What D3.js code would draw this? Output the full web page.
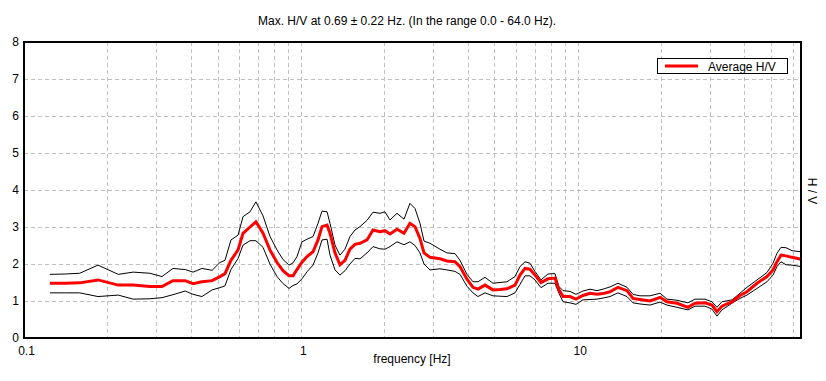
<!DOCTYPE html>
<html><head><meta charset="utf-8">
<script src="https://cdn.jsdelivr.net/npm/d3@7"></script>
<style>
html,body{margin:0;padding:0;background:#fff;}
text{font-family:"Liberation Sans",Arial,sans-serif;}
</style></head>
<body><svg id="c" width="826" height="381"></svg>
<script>
const freq = [0.124,0.141,0.159,0.185,0.219,0.248,0.285,0.315,0.345,0.382,0.408,0.439,0.478,0.510,0.532,0.559,0.593,0.618,0.655,0.688,0.730,0.773,0.820,0.862,0.906,0.937,0.968,1.009,1.052,1.106,1.153,1.192,1.243,1.274,1.328,1.384,1.443,1.504,1.568,1.635,1.733,1.822,1.931,2.012,2.098,2.224,2.357,2.477,2.583,2.692,2.784,2.926,3.179,3.370,3.602,3.755,3.980,4.183,4.361,4.623,4.941,5.236,5.550,5.933,6.185,6.447,6.721,7.006,7.364,7.805,8.273,8.552,8.844,9.371,9.851,10.44,11.07,11.73,12.33,13.07,13.97,15.06,15.83,16.77,18.23,19.82,21.00,22.82,25.00,26.50,28.80,30.52,31.82,33.17,36.06,38.53,40.84,44.39,48.23,50.70,52.41,54.19,56.49,59.38,64.0];
const hvMean = [1.48,1.48,1.49,1.57,1.43,1.43,1.39,1.39,1.55,1.55,1.47,1.52,1.55,1.66,1.74,2.1,2.38,2.83,3.0,3.14,2.83,2.38,2.04,1.82,1.68,1.68,1.85,2.05,2.2,2.33,2.65,3.01,3.05,2.83,2.3,1.98,2.1,2.4,2.53,2.56,2.65,2.92,2.87,2.9,2.81,2.94,2.83,3.1,3.01,2.69,2.3,2.18,2.14,2.08,2.06,1.93,1.59,1.37,1.32,1.43,1.30,1.31,1.33,1.43,1.70,1.88,1.86,1.7,1.5,1.6,1.62,1.30,1.12,1.12,1.05,1.15,1.21,1.18,1.2,1.25,1.37,1.28,1.07,1.04,1.0,1.1,0.98,0.94,0.83,0.94,0.95,0.89,0.71,0.86,0.98,1.15,1.25,1.48,1.66,1.84,2.06,2.24,2.22,2.18,2.13];
const hvUpper = [1.72,1.73,1.75,1.97,1.72,1.78,1.75,1.66,1.88,1.85,1.78,1.88,1.83,2.04,2.1,2.65,2.78,3.28,3.41,3.68,3.3,2.75,2.38,2.12,1.97,2.03,2.2,2.6,2.67,2.74,3.1,3.43,3.41,3.1,2.51,2.24,2.4,2.74,2.92,3.01,3.18,3.4,3.37,3.41,3.19,3.37,3.21,3.64,3.5,3.1,2.62,2.56,2.4,2.3,2.28,2.1,1.72,1.52,1.52,1.64,1.48,1.5,1.52,1.66,1.93,2.06,2.02,1.8,1.57,1.73,1.74,1.39,1.28,1.26,1.18,1.27,1.32,1.28,1.32,1.38,1.48,1.37,1.18,1.14,1.14,1.21,1.05,1.02,0.95,1.05,1.05,0.98,0.83,0.98,1.03,1.21,1.37,1.57,1.77,2.02,2.29,2.45,2.44,2.36,2.33];
const hvLower = [1.22,1.22,1.22,1.12,1.16,1.05,1.06,1.09,1.17,1.27,1.18,1.12,1.30,1.36,1.41,1.85,2.15,2.51,2.63,2.63,2.45,2.0,1.66,1.47,1.34,1.42,1.46,1.6,1.79,1.97,2.3,2.65,2.67,2.24,1.84,1.7,1.82,2.0,2.15,2.14,2.3,2.47,2.41,2.4,2.47,2.6,2.52,2.6,2.5,2.3,2.0,1.84,1.87,1.84,1.8,1.72,1.4,1.22,1.12,1.22,1.14,1.13,1.12,1.22,1.45,1.68,1.68,1.57,1.36,1.48,1.48,1.21,0.98,0.95,0.91,1.03,1.04,1.05,1.08,1.12,1.22,1.12,0.95,0.92,0.89,0.97,0.89,0.83,0.76,0.86,0.86,0.78,0.59,0.76,0.94,1.07,1.16,1.34,1.52,1.7,1.93,2.06,1.98,1.97,1.93];
const xTicks = [0.1, 1, 10];
const yTicks = [0,1,2,3,4,5,6,7,8];
const titleText = "Max. H/V at 0.69 \u00b1 0.22 Hz. (In the range 0.0 - 64.0 Hz).";
const xLabel = "frequency [Hz]";
const yLabel = "H / V";
const legendLabel = "Average H/V";

const svg = d3.select("#c");
const L = 24, R = 801, T = 42, B = 338;
const x = d3.scaleLog().domain([0.1, 64]).range([L, R]);
const y = d3.scaleLinear().domain([0, 8]).range([B, T]);

svg.append("rect").attr("width",826).attr("height",381).attr("fill","#fff");

// grid
const gridX = [];
[0.1,1,10].forEach(d => { for (let k=1;k<10;k++){ const v=d*k; if (v>0.1 && v<64) gridX.push(v);} });
const g = svg.append("g").attr("stroke","#c0c0c0").attr("stroke-dasharray","4,3").attr("stroke-width",1).attr("shape-rendering","crispEdges");
g.selectAll("line.gx").data(gridX).join("line")
  .attr("x1",d=>Math.round(x(d))+0.5).attr("x2",d=>Math.round(x(d))+0.5).attr("y1",T).attr("y2",B);
g.selectAll("line.gy").data(yTicks.filter(v=>v>0&&v<8)).join("line")
  .attr("y1",d=>Math.round(y(d))+0.5).attr("y2",d=>Math.round(y(d))+0.5).attr("x1",L).attr("x2",R);

// curves
const pts = arr => freq.map((f,i)=>[f,arr[i]]);
const line = d3.line().x(d=>x(d[0])).y(d=>y(d[1]));
svg.append("path").attr("d",line(pts(hvUpper))).attr("fill","none").attr("stroke","#000").attr("stroke-width",1);
svg.append("path").attr("d",line(pts(hvLower))).attr("fill","none").attr("stroke","#000").attr("stroke-width",1);
svg.append("path").attr("d",line(pts(hvMean))).attr("fill","none").attr("stroke","#ff0000").attr("stroke-width",3);

// frame
svg.append("rect").attr("x",L).attr("y",T).attr("width",R-L).attr("height",B-T)
  .attr("fill","none").attr("stroke","#000").attr("stroke-width",2).attr("shape-rendering","crispEdges");

// axes
const xa = svg.append("g").attr("transform",`translate(2,${B})`)
  .call(d3.axisBottom(x).tickValues(xTicks).tickSize(0).tickPadding(8).tickFormat(d=>String(d)));
xa.select(".domain").remove();
xa.selectAll("text").attr("font-size",12).attr("fill","#000").attr("font-family","Liberation Sans, Arial, sans-serif");

const ya = svg.append("g").attr("transform",`translate(${L},0)`)
  .call(d3.axisLeft(y).tickValues(yTicks).tickSize(0).tickPadding(5).tickFormat(d3.format("d")));
ya.select(".domain").remove();
ya.selectAll("text").attr("font-size",12).attr("fill","#000").attr("font-family","Liberation Sans, Arial, sans-serif");

// titles
svg.append("text").attr("x",407).attr("y",25).attr("text-anchor","middle").attr("font-size",12).text(titleText);
svg.append("text").attr("x",412).attr("y",363).attr("text-anchor","middle").attr("font-size",12).text(xLabel);
svg.append("text").attr("transform","translate(808,191) rotate(90)").attr("text-anchor","middle").attr("font-size",12).text(yLabel);

// legend
svg.append("rect").attr("x",657.5).attr("y",58.5).attr("width",130).attr("height",15).attr("fill","#fff").attr("stroke","#000").attr("stroke-width",1);
svg.append("line").attr("x1",665).attr("x2",698).attr("y1",66).attr("y2",66).attr("stroke","#ff0000").attr("stroke-width",3);
svg.append("text").attr("x",708).attr("y",70.5).attr("font-size",12).text(legendLabel);
</script></body></html>
